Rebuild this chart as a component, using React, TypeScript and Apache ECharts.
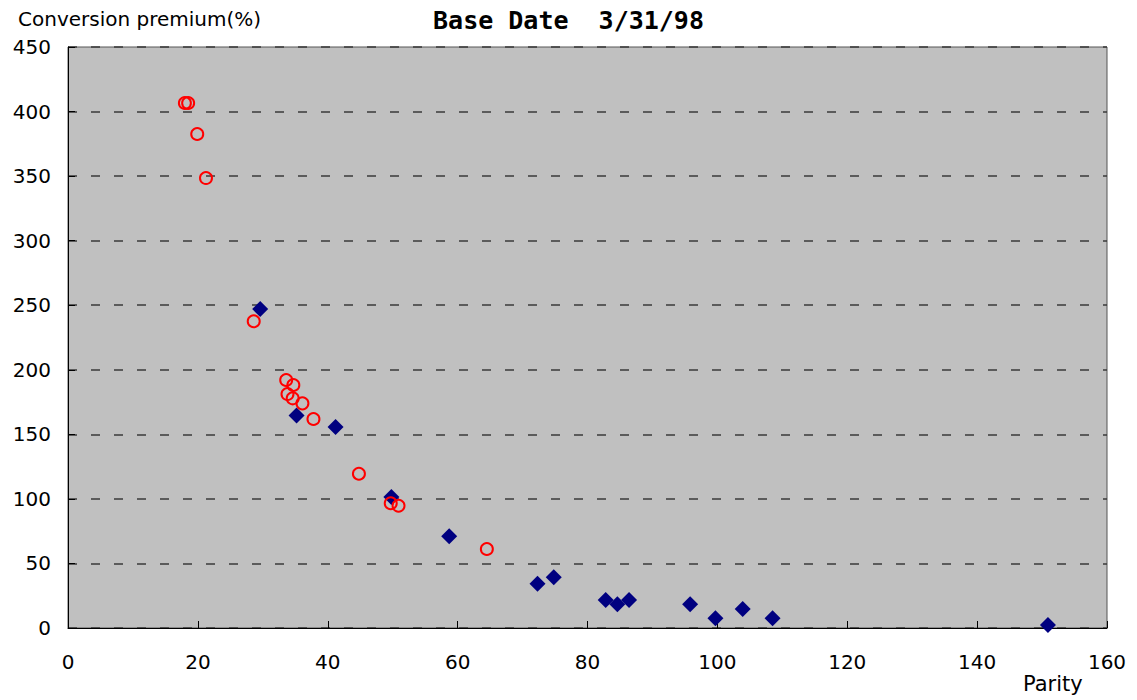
import React, { useEffect, useRef } from "react";
import * as echarts from "echarts";

const titleText = "Base Date  3/31/98";
const yAxisTitle = "Conversion premium(%)";
const xAxisTitle = "Parity";

// Series A (filled navy diamonds): parity, premium
const diamondParity = [29.6, 35.2, 41.2, 49.8, 58.7, 72.3, 74.8, 82.8, 84.6, 86.4, 95.8, 99.7, 103.9, 108.5, 150.9];
const diamondPremium = [247, 164.5, 155.7, 101.5, 71, 34.3, 39.3, 21.7, 18.3, 21.7, 18.3, 7.5, 14.7, 7.5, 2.3];

// Series B (open red circles): parity, premium
const circleParity = [18.0, 18.5, 19.9, 21.25, 28.6, 33.6, 34.7, 33.8, 34.6, 36.1, 37.8, 44.8, 49.7, 50.9, 64.5];
const circlePremium = [406.6, 406.6, 382.6, 348.5, 237.6, 192.1, 188.2, 181.2, 177.9, 174.0, 161.9, 119.5, 96.6, 94.7, 61.2];

const xTicks = [0, 20, 40, 60, 80, 100, 120, 140, 160];
const yTicks = [0, 50, 100, 150, 200, 250, 300, 350, 400, 450];

export default function App() {
  const ref = useRef<HTMLDivElement>(null);
  useEffect(() => {
    if (!ref.current) return;
    const chart = echarts.init(ref.current, undefined, { renderer: "svg" });
    const labelFont = "'DejaVu Sans', sans-serif";
    chart.setOption({
      animation: false,
      backgroundColor: "#ffffff",
      grid: {
        left: 68,
        right: 30,
        top: 47,
        bottom: 72,
        show: true,
        backgroundColor: "#c0c0c0",
        borderColor: "#555555",
        borderWidth: 1,
      },
      xAxis: {
        type: "value",
        min: xTicks[0],
        max: xTicks[xTicks.length - 1],
        interval: 20,
        axisLine: { show: true, lineStyle: { color: "#000", width: 1 } },
        axisTick: { show: true, inside: true, length: 7, lineStyle: { color: "#000" } },
        splitLine: { show: false },
        axisLabel: { color: "#000", fontSize: 20, fontFamily: labelFont, margin: 24 },
      },
      yAxis: {
        type: "value",
        min: yTicks[0],
        max: yTicks[yTicks.length - 1],
        interval: 50,
        axisLine: { show: true, lineStyle: { color: "#000", width: 1 } },
        axisTick: { show: true, inside: true, length: 7, lineStyle: { color: "#000" } },
        splitLine: {
          show: true,
          lineStyle: { color: "#3a3a3a", width: 1.5, type: [9, 14] },
        },
        axisLabel: { color: "#000", fontSize: 20, fontFamily: labelFont, margin: 17 },
      },
      graphic: [
        {
          type: "text",
          left: 18,
          top: 9,
          style: { text: yAxisTitle, fontSize: 20, fontFamily: labelFont, fill: "#000" },
        },
        {
          type: "text",
          left: "center",
          top: 8,
          style: {
            text: titleText,
            fontSize: 25,
            fontWeight: "bold",
            fontFamily: "'DejaVu Sans Mono', monospace",
            fill: "#000",
          },
        },
        {
          type: "text",
          left: 1023,
          top: 673,
          style: { text: xAxisTitle, fontSize: 21, fontFamily: labelFont, fill: "#000" },
        },
      ],
      series: [
        {
          type: "scatter",
          symbol: "diamond",
          symbolSize: 16,
          itemStyle: { color: "#000080", opacity: 1 },
          data: diamondParity.map((x, i) => [x, diamondPremium[i]]),
          z: 2,
        },
        {
          type: "scatter",
          symbol: "circle",
          symbolSize: 12,
          itemStyle: { color: "transparent", borderColor: "#ff0000", borderWidth: 2, opacity: 1 },
          data: circleParity.map((x, i) => [x, circlePremium[i]]),
          z: 3,
        },
      ],
    });
    return () => chart.dispose();
  }, []);
  return <div ref={ref} style={{ width: 1137, height: 700, position: "absolute", left: 0, top: 0 }} />;
}
